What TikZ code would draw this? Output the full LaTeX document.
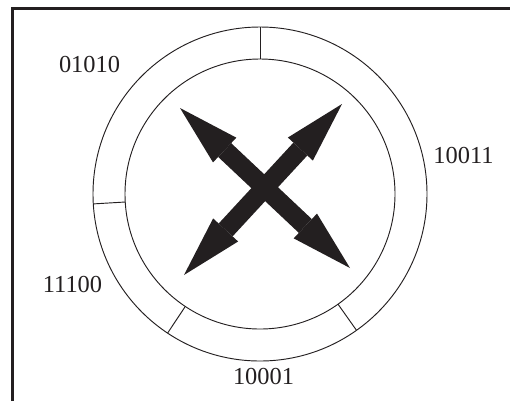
\documentclass[tikz,border=0pt]{standalone}
\usepackage{fontspec}
\setmainfont{Liberation Serif}
\usetikzlibrary{arrows.meta}
\definecolor{ink}{RGB}{35,31,32}
\tikzset{
  ring/.style={draw=ink, line width=0.7pt},
  frameline/.style={draw=ink, line width=2.5pt},
  lbl/.style={font=\fontsize{18.3}{22}\selectfont, text=ink, inner sep=0pt},
  xarrow/.style={draw=ink, fill=ink, line width=14.2pt,
    {Triangle[length=46pt, width=25.5pt, line width=0pt]}-{Triangle[length=46pt, width=25.5pt, line width=0pt]}}
}
\begin{document}
\begin{tikzpicture}[x=0.75pt, y=-0.75pt]
\useasboundingbox (0,0) rectangle (510,401);
% frame
\draw[frameline] (12.5,401) -- (12.5,8.3) -- (510,8.3);
% rings
\coordinate (c) at (260,194);
\draw[ring] (c) circle[radius=125.25pt];
\draw[ring] (c) circle[radius=101.25pt];
% dividers
\foreach \a in {90,183.4,236.4,305.3}{
  \draw[ring] ([shift={(\a:101.25pt)}]c) -- ([shift={(\a:125.25pt)}]c);
}
% labels
\node[lbl] (l1) at (89.5,64.5) {01010};
\node[lbl] (l2) at (463.5,155) {10011};
\node[lbl] (l3) at (72.5,284) {11100};
\node[lbl] (l4) at (263.5,376) {10001};
% crossed arrows
\coordinate (tl) at (180,108);
\coordinate (br) at (350,268);
\coordinate (tr) at (342,104);
\coordinate (bl) at (184,275);
\draw[xarrow] (tl) -- (br);
\draw[xarrow] (tr) -- (bl);
\end{tikzpicture}
\end{document}
